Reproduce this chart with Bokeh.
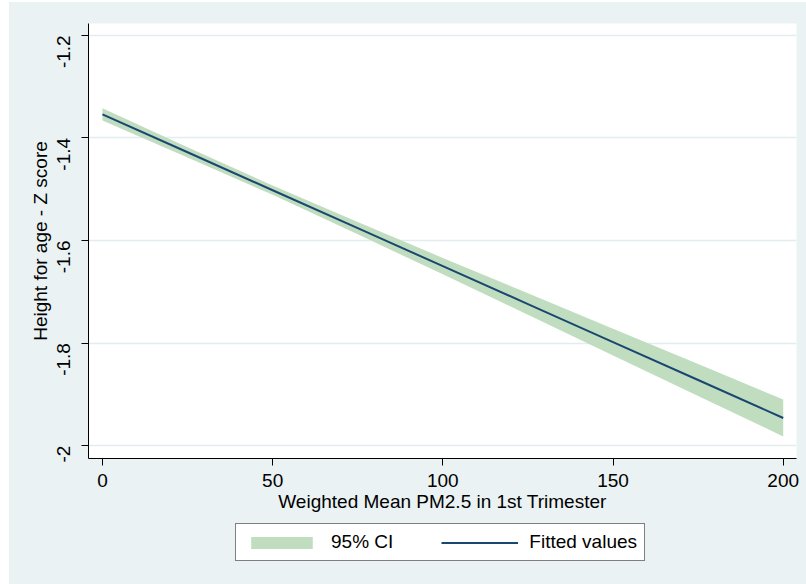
from bokeh.plotting import figure
from bokeh.layouts import column
from bokeh.models import Range1d, FixedTicker, Legend, LegendItem, ColumnDataSource
from bokeh.embed import file_html
from bokeh.resources import INLINE
import math

# Linear fit of height-for-age z score on first-trimester PM2.5, with 95% CI
pm25 = [0, 25, 50, 75, 100, 125, 150, 175, 200]
fitted = [-1.354, -1.428, -1.502, -1.576, -1.650, -1.724, -1.798, -1.872, -1.946]
ci_lower = [-1.366, -1.438, -1.511, -1.588, -1.666, -1.745, -1.824, -1.903, -1.982]
ci_upper = [-1.342, -1.418, -1.493, -1.564, -1.634, -1.703, -1.772, -1.841, -1.910]

x_ticks = [0, 50, 100, 150, 200]
y_ticks = [-2.0, -1.8, -1.6, -1.4, -1.2]
y_tick_labels = {-2.0: "-2", -1.8: "-1.8", -1.6: "-1.6", -1.4: "-1.4", -1.2: "-1.2"}

BG = "#EAF2F3"
FONT = "Liberation Sans"
BAND_COLOR = "#C0DDC0"
LINE_COLOR = "#1A476F"

src = ColumnDataSource(dict(x=pm25, fit=fitted, lo=ci_lower, hi=ci_upper))

# ---- main plot -------------------------------------------------------------
p = figure(
    width=797, height=512,
    x_range=Range1d(-4.1, 203.9), y_range=Range1d(-2.025, -1.177),
    output_backend="svg", toolbar_location=None,
    min_border_left=79, min_border_right=10, min_border_top=21, min_border_bottom=56,
)
p.border_fill_color = BG
p.background_fill_color = "white"
p.outline_line_color = None

p.varea(x="x", y1="lo", y2="hi", source=src, fill_color=BAND_COLOR, fill_alpha=1.0)
p.line(x="x", y="fit", source=src, line_color=LINE_COLOR, line_width=2)

p.xaxis.ticker = FixedTicker(ticks=x_ticks)
p.yaxis.ticker = FixedTicker(ticks=y_ticks)
p.yaxis.major_label_overrides = y_tick_labels
p.yaxis.major_label_orientation = math.pi / 2
for ax in (p.xaxis[0], p.yaxis[0]):
    ax.axis_line_color = "black"
    ax.axis_line_width = 1
    ax.major_tick_line_color = "black"
    ax.major_tick_out = 7
    ax.major_tick_in = 0
    ax.minor_tick_line_color = None
    ax.major_label_text_font = FONT
    ax.major_label_text_font_size = "19px"
    ax.major_label_text_color = "black"
    ax.axis_label_text_font = FONT
    ax.axis_label_text_font_size = "19px"
    ax.axis_label_text_font_style = "normal"
    ax.axis_label_text_color = "black"

p.xaxis.axis_label = "Weighted Mean PM2.5 in 1st Trimester"
p.yaxis.axis_label = "Height for age - Z score"
p.xaxis.major_label_standoff = 8
p.xaxis.axis_label_standoff = 1
p.yaxis.major_label_standoff = 18
p.yaxis.axis_label_standoff = -3

p.xgrid.grid_line_color = None
p.ygrid.grid_line_color = "#E3EDEF"
p.ygrid.grid_line_width = 1.5

# ---- legend strip under the x-axis title ----------------------------------
leg = figure(
    width=797, height=70,
    x_range=Range1d(0, 1), y_range=Range1d(0, 1),
    output_backend="svg", toolbar_location=None,
    min_border_left=0, min_border_right=0, min_border_top=0, min_border_bottom=0,
    x_axis_type=None, y_axis_type=None,
)
leg.border_fill_color = BG
leg.background_fill_color = BG
leg.outline_line_color = None
leg.grid.visible = False

# same series drawn off-range here, so only their legend keys show
band_key = leg.varea(x="x", y1="lo", y2="hi", source=src, fill_color=BAND_COLOR, fill_alpha=1.0)
line_key = leg.line(x="x", y="fit", source=src, line_color=LINE_COLOR, line_width=2)

legend = Legend(
    items=[LegendItem(label="95% CI", renderers=[band_key]),
           LegendItem(label="Fitted values", renderers=[line_key])],
    orientation="horizontal", location=(147, 23),
    glyph_width=77, glyph_height=15, label_standoff=11, spacing=48,
    padding=7, margin=0,
    border_line_color="black", border_line_width=1,
    background_fill_color="white", background_fill_alpha=1.0,
    label_text_font=FONT, label_text_font_size="19px", label_text_color="black",
)
leg.add_layout(legend, "center")

layout = column(p, leg, spacing=0, styles={"background-color": BG})
layout.margin = (2, 0, 0, 9)
open("out.html", "w").write(file_html(layout, INLINE))
